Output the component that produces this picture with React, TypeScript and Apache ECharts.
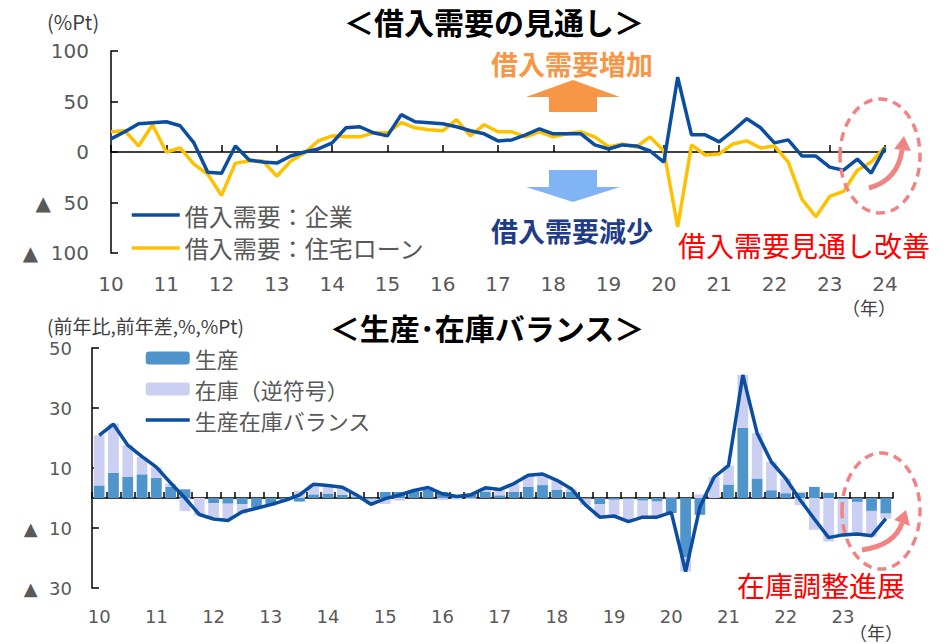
import { useEffect, useRef } from "react";
import * as echarts from "echarts";

// ---------- data ----------
const topYears = [10, 11, 12, 13, 14, 15, 16, 17, 18, 19, 20, 21, 22, 23, 24];
const topQuarters: string[] = [];
topYears.forEach((y) => {
  for (let q = 1; q <= 4; q++) {
    if (y === 24 && q > 1) continue;
    topQuarters.push(`${y}Q${q}`);
  }
});
const bottomYears = [10, 11, 12, 13, 14, 15, 16, 17, 18, 19, 20, 21, 22, 23];
const bottomQuarters: string[] = [];
bottomYears.forEach((y) => {
  for (let q = 1; q <= 4; q++) bottomQuarters.push(`${y}Q${q}`);
});

// 借入需要：企業 (2010Q1-2024Q1)
const corpDemand = [
  13, 20, 28, 29, 30, 26, 9, -20, -21, 6,
  -8, -10, -11, -4, 0, 3, 9, 24, 25, 19,
  16, 37, 30, 29, 28, 25, 21, 18, 11, 12,
  17, 23, 18, 18, 18, 7, 3, 7, 6, 1,
  -10, 74, 17, 17, 10, 21, 33, 24, 9, 12,
  -4, -4, -15, -18, -7, -21, 4,
];
// 借入需要：住宅ローン
const housingDemand = [
  20, 21, 6, 27, 0, 4, -12, -22, -43, -11,
  -9, -9, -24, -9, -1, 11, 16, 15, 15, 19,
  19, 29, 24, 22, 21, 32, 16, 27, 20, 20,
  15, 20, 15, 18, 20, 15, 5, 8, 5, 15,
  1, -74, 7, -3, -2, 8, 11, 4, 6, -10,
  -47, -64, -44, -39, -18, -10, 5,
];

// 生産 (2010Q1-2023Q4)
const production = [
  4.2, 8.4, 7.0, 7.9, 6.7, 3.7, 2.9, 0.0, -1.7, -1.9,
  -2.1, -3.0, -2.4, -0.8, -1.2, 1.2, 1.5, 1.0, 0.5, -0.3,
  2.0, 2.0, 2.3, 2.7, 2.0, 0.7, 1.4, 2.0, 0.9, 2.0,
  3.7, 4.3, 2.8, 2.0, -0.2, -2.0, -0.6, -0.3, -0.9, -1.2,
  -5.0, -19.8, -5.6, 0.0, 4.5, 23.4, 6.5, 2.6, 1.6, 1.8,
  3.7, 1.7, -0.3, -1.3, -4.3, -5.2,
];
// 在庫（逆符号）
const inventoryRev = [
  16.7, 16.4, 10.6, 5.8, 3.6, 1.1, -4.3, -5.8, -4.6, -5.0,
  -3.1, -0.6, -0.3, -0.3, 2.3, 3.4, 2.5, 2.4, 0.5, -1.8,
  -2.0, -0.9, 0.2, 1.0, -0.7, -0.5, -0.3, 1.4, 1.9, 2.8,
  3.9, 3.8, 3.1, 1.1, -2.2, -4.3, -5.0, -7.4, -5.6, -5.3,
  0.2, -4.7, 1.2, 7.0, 6.3, 17.6, 15.1, 9.4, 4.9, -2.4,
  -10.6, -14.5, -12.5, -11.3, -8.6, -1.7,
];
// 生産在庫バランス
const balance = [
  20.9, 24.6, 17.6, 13.8, 10.3, 5.0, 0.0, -5.5, -7.0, -7.5,
  -4.6, -3.4, -2.2, -0.8, 1.0, 4.6, 4.2, 3.6, 1.0, -2.1,
  -0.2, 1.0, 2.5, 3.5, 1.4, 0.5, 1.1, 3.4, 2.8, 4.8,
  7.6, 8.0, 5.9, 3.1, -2.3, -6.4, -6.0, -7.9, -6.4, -6.4,
  -4.8, -24.5, -3.0, 7.0, 10.8, 41.0, 21.6, 12.0, 6.5, -0.6,
  -7.0, -13.2, -12.3, -12.0, -12.6, -6.9,
];

const topYRange = { min: -100, max: 100, interval: 50 };
const bottomYRange = { min: -30, max: 50, interval: 20 };

// ---------- styles ----------
const NUM = "'DejaVu Sans', 'Noto Sans CJK JP', sans-serif";
const JP = "'Noto Sans CJK JP', sans-serif";
const GREY = "#595959";
const BLUE = "#0B4EA1";
const YELLOW = "#FFC000";
const PINK = "#F08484";

const negFmt = (v: number) => (v < 0 ? `▲\u00A0\u00A0${-v}` : `${v}`);
const yearFmt = (v: string) => v.slice(0, 2);

function txt(text: string, x: number, y: number, size: number, fill: string, align = "left", weight = "normal", family = JP) {
  return {
    type: "text",
    x,
    y,
    z: 100,
    style: {
      text,
      fill,
      fontSize: size,
      fontWeight: weight,
      fontFamily: family,
      align,
      verticalAlign: "middle",
      textAlign: align,
      textVerticalAlign: "middle",
    },
  };
}

function arrowHead(tip: [number, number], b1: [number, number], b2: [number, number]) {
  return {
    type: "polygon",
    z: 100,
    shape: { points: [tip, b1, b2] },
    style: { fill: PINK },
  };
}

const lineLegend = (name: string, color: string) => ({
  name,
  itemStyle: { opacity: 0, borderWidth: 0 },
  lineStyle: { width: 3.5, color },
});

export default function App() {
  const ref = useRef<HTMLDivElement>(null);
  useEffect(() => {
    if (!ref.current) return;
    const chart = echarts.init(ref.current, undefined, { renderer: "svg" });
    const axisLineStyle = { color: "#000", width: 1.5 };
    const option: any = {
      animation: false,
      backgroundColor: "#fff",
      textStyle: { fontFamily: JP },
      grid: [
        { left: 111, top: 51, width: 774, height: 202, containLabel: false, outerBoundsMode: "none" },
        { left: 92, top: 348, width: 801, height: 240, containLabel: false, outerBoundsMode: "none" },
      ],
      xAxis: [
        {
          gridIndex: 0,
          type: "category",
          data: topQuarters,
          boundaryGap: false,
          axisLine: { show: true, onZero: true, lineStyle: axisLineStyle },
          axisTick: { show: true, inside: true, length: 7, interval: 3, lineStyle: axisLineStyle },
          axisLabel: { interval: 3, margin: 21, formatter: yearFmt, fontSize: 20, color: GREY, fontFamily: NUM },
          splitLine: { show: false },
        },
        {
          gridIndex: 1,
          type: "category",
          data: bottomQuarters,
          boundaryGap: true,
          axisLine: { show: true, onZero: true, lineStyle: axisLineStyle },
          axisTick: { show: true, inside: true, length: 6, interval: 0, alignWithLabel: false, lineStyle: axisLineStyle },
          axisLabel: { interval: 3, margin: 19, formatter: yearFmt, fontSize: 18, color: GREY, fontFamily: NUM },
          splitLine: { show: false },
        },
      ],
      yAxis: [
        {
          gridIndex: 0,
          type: "value",
          ...topYRange,
          axisLine: { show: true, lineStyle: axisLineStyle },
          axisTick: { show: true, inside: true, length: 7, lineStyle: axisLineStyle },
          axisLabel: { formatter: negFmt, margin: 22, fontSize: 20, color: GREY, fontFamily: NUM },
          splitLine: { show: false },
        },
        {
          gridIndex: 1,
          type: "value",
          ...bottomYRange,
          axisLine: { show: true, lineStyle: axisLineStyle },
          axisTick: { show: true, inside: true, length: 7, lineStyle: axisLineStyle },
          axisLabel: { formatter: negFmt, margin: 20, fontSize: 18, color: GREY, fontFamily: NUM },
          splitLine: { show: false },
        },
      ],
      legend: [
        {
          orient: "vertical",
          left: 130,
          top: 203,
          padding: 0,
          itemWidth: 48,
          itemHeight: 14,
          itemGap: 9,
          data: [lineLegend("借入需要：企業", BLUE), lineLegend("借入需要：住宅ローン", YELLOW)],
          textStyle: { fontSize: 24, color: GREY, fontFamily: JP },
        },
        {
          orient: "vertical",
          left: 144,
          top: 347,
          padding: 0,
          itemWidth: 44,
          itemHeight: 13,
          itemGap: 9,
          data: ["生産", "在庫（逆符号）", lineLegend("生産在庫バランス", BLUE)],
          textStyle: { fontSize: 22, color: GREY, fontFamily: JP },
        },
      ],
      series: [
        {
          name: "借入需要：企業",
          type: "line",
          xAxisIndex: 0,
          yAxisIndex: 0,
          data: corpDemand,
          symbol: "none",
          lineStyle: { color: BLUE, width: 3.5 },
          itemStyle: { color: BLUE },
          z: 3,
        },
        {
          name: "借入需要：住宅ローン",
          type: "line",
          xAxisIndex: 0,
          yAxisIndex: 0,
          data: housingDemand,
          symbol: "none",
          lineStyle: { color: YELLOW, width: 3.5 },
          itemStyle: { color: YELLOW },
          z: 2,
        },
        {
          name: "生産",
          type: "bar",
          xAxisIndex: 1,
          yAxisIndex: 1,
          stack: "pi",
          data: production,
          barCategoryGap: "25%",
          itemStyle: { color: "#4F94CB" },
        },
        {
          name: "在庫（逆符号）",
          type: "bar",
          xAxisIndex: 1,
          yAxisIndex: 1,
          stack: "pi",
          data: inventoryRev,
          barCategoryGap: "25%",
          itemStyle: { color: "#CBCFF2" },
        },
        {
          name: "生産在庫バランス",
          type: "line",
          xAxisIndex: 1,
          yAxisIndex: 1,
          data: balance,
          symbol: "none",
          lineStyle: { color: BLUE, width: 3.5 },
          itemStyle: { color: BLUE },
          z: 5,
        },
      ],
      graphic: [
        txt("＜借入需要の見通し＞", 494, 21, 30, "#000", "center", "bold"),
        txt("(%Pt)", 47, 21, 20, "#404040"),
        txt("借入需要増加", 572, 63, 27, "#F79646", "center", "bold"),
        txt("借入需要減少", 572, 230, 27, "#1F3C88", "center", "bold"),
        txt("借入需要見通し改善", 678, 245, 28, "#FF0000"),
        txt("（年）", 869, 307, 18, "#404040", "center"),
        txt("＜生産･在庫バランス＞", 487, 327, 30, "#000", "center", "bold"),
        txt("(前年比,前年差,%,%Pt)", 47, 325, 19, "#404040"),
        txt("在庫調整進展", 737, 585, 28, "#FF0000"),
        txt("（年）", 876, 632, 18, "#404040", "center"),
        {
          type: "polygon",
          z: 100,
          shape: { points: [[526, 97], [573, 80], [620, 97], [597, 97], [597, 112], [549, 112], [549, 97]] },
          style: { fill: "#F79646" },
        },
        {
          type: "polygon",
          z: 100,
          shape: { points: [[549, 170], [597, 170], [597, 187], [620, 187], [573, 202], [526, 187], [549, 187]] },
          style: { fill: "#80B4F4" },
        },
        {
          type: "ellipse",
          z: 100,
          shape: { cx: 880, cy: 156, rx: 40, ry: 57 },
          style: { fill: "none", stroke: PINK, lineWidth: 3.5, lineDash: [9, 6] },
        },
        {
          type: "ellipse",
          z: 100,
          shape: { cx: 881, cy: 511, rx: 39, ry: 58 },
          style: { fill: "none", stroke: PINK, lineWidth: 3.5, lineDash: [9, 6] },
        },
        {
          type: "bezierCurve",
          z: 100,
          shape: { x1: 869, y1: 188, cpx1: 898, cpy1: 180, x2: 902, y2: 150 },
          style: { fill: "none", stroke: PINK, lineWidth: 5 },
        },
        arrowHead([904, 136], [894, 149], [911, 151]),
        {
          type: "bezierCurve",
          z: 100,
          shape: { x1: 862, y1: 550, cpx1: 895, cpy1: 545, x2: 902, y2: 523 },
          style: { fill: "none", stroke: PINK, lineWidth: 5 },
        },
        arrowHead([906, 510], [894, 520], [910, 526]),
      ],
    };
    chart.setOption(option);
    return () => chart.dispose();
  }, []);
  return (
    <div
      ref={ref}
      style={{ position: "absolute", left: 0, top: 0, width: 951, height: 644 }}
    />
  );
}
